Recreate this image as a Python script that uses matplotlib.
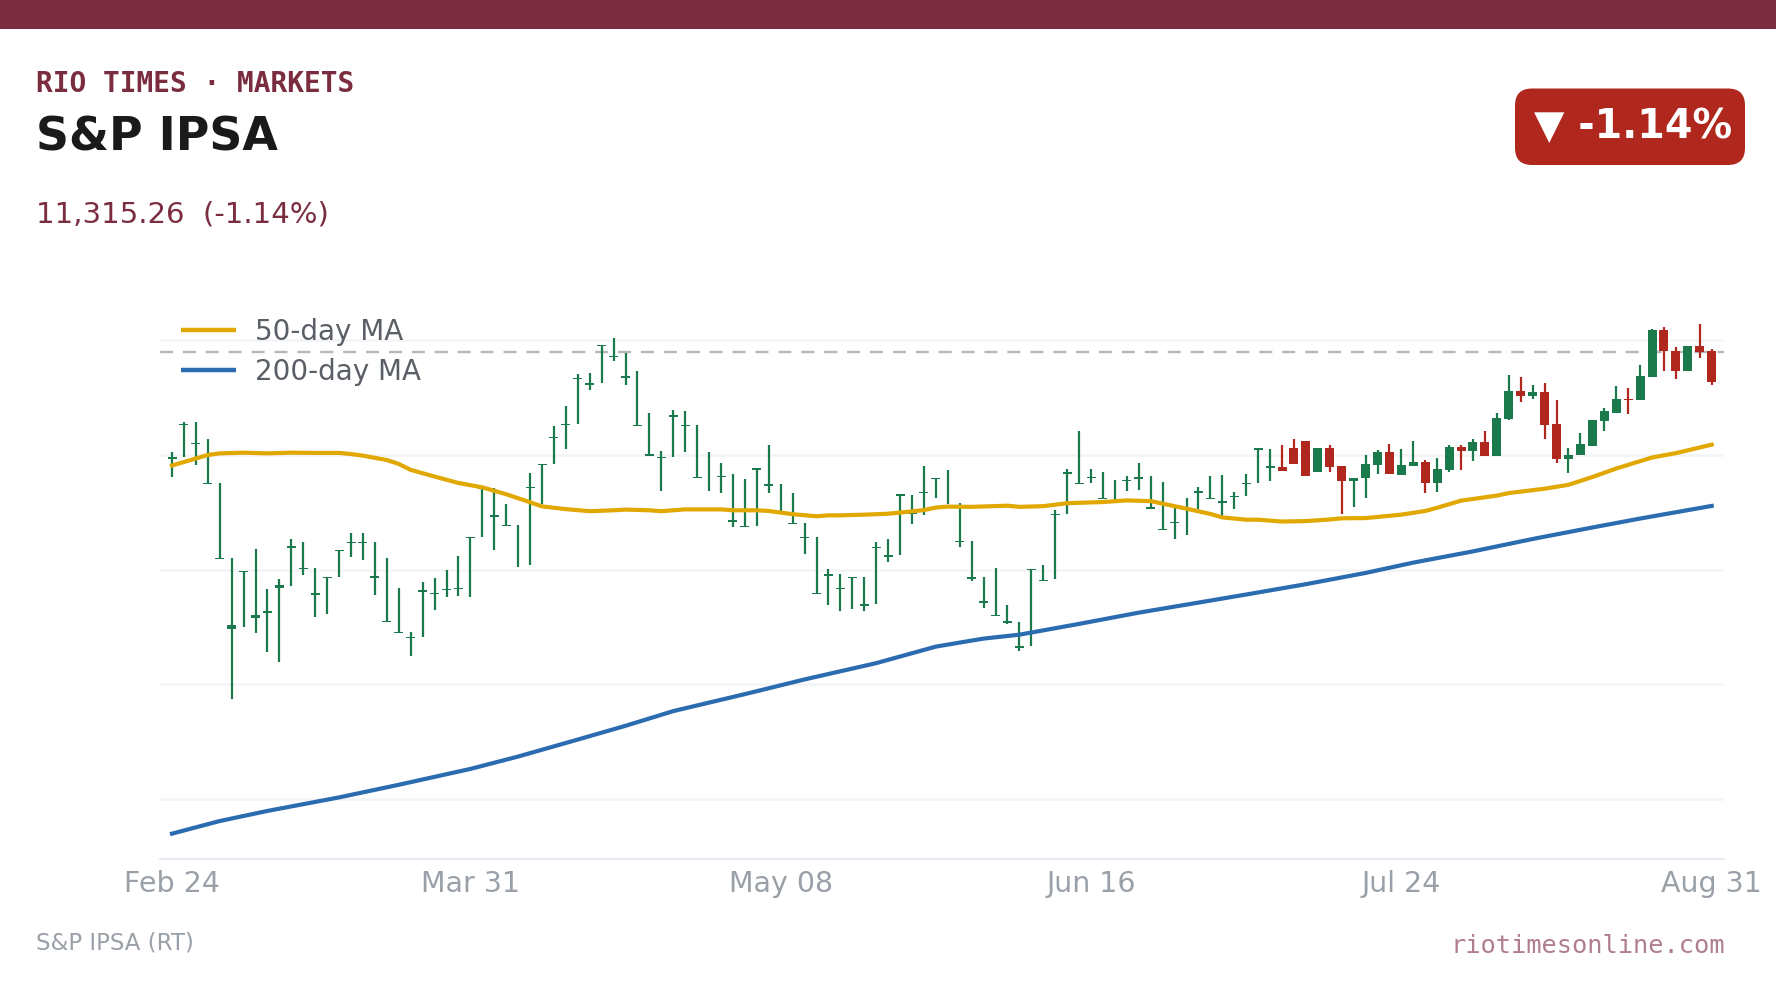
import matplotlib
matplotlib.use("Agg")
import matplotlib.pyplot as plt
from matplotlib.patches import FancyBboxPatch, Rectangle

HIGHS = [
    11012, 11141, 11141, 11067, 10877, 10549, 10495, 10590, 10415, 10457,
    10633, 10619, 10505, 10466, 10584, 10658, 10658, 10619, 10549, 10418,
    10227, 10444, 10462, 10497, 10558, 10643, 10854, 10854, 10786, 10693,
    10919, 10958, 11124, 11211, 11350, 11355, 11477, 11507, 11442, 11365,
    11182, 11016, 11195, 11191, 11130, 11012, 10963, 10916, 10895, 10941,
    11043, 10873, 10834, 10701, 10642, 10501, 10481, 10469, 10468, 10619,
    10633, 10828, 10825, 10951, 10897, 10934, 10790, 10624, 10469, 10506,
    10347, 10273, 10503, 10521, 10759, 10938, 11105, 10938, 10926, 10891,
    10907, 10965, 10909, 10881, 10768, 10811, 10859, 10909, 10913, 10837,
    10917, 11028, 11026, 11044, 11067, 11058, 11028, 11041, 10949, 10897,
    11001, 11019, 11045, 11023, 11062, 10975, 10988, 11041, 11041, 11067,
    11102, 11180, 11346, 11337, 11306, 11311, 11237, 11028, 11093, 11150,
    11202, 11298, 11289, 11393, 11550, 11555, 11468, 11472, 11568, 11459,
]
LOWS = [
    10905, 10992, 10957, 10877, 10550, 9935, 10251, 10225, 10142, 10099,
    10430, 10478, 10295, 10308, 10469, 10556, 10543, 10391, 10277, 10229,
    10125, 10208, 10325, 10382, 10386, 10382, 10643, 10587, 10694, 10513,
    10521, 10786, 10961, 11027, 11136, 11284, 11314, 11410, 11305, 11130,
    10995, 10842, 10992, 11012, 10905, 10844, 10835, 10687, 10687, 10691,
    10835, 10757, 10701, 10569, 10399, 10346, 10317, 10330, 10321, 10351,
    10534, 10565, 10700, 10739, 10813, 10787, 10600, 10449, 10331, 10296,
    10262, 10143, 10165, 10451, 10457, 10744, 10879, 10879, 10811, 10804,
    10840, 10845, 10771, 10676, 10631, 10649, 10765, 10811, 10731, 10765,
    10821, 10879, 10884, 10930, 10958, 10906, 10927, 10923, 10740, 10771,
    10810, 10914, 10914, 10910, 10949, 10832, 10836, 10927, 10932, 10971,
    10993, 10993, 11150, 11232, 11245, 11067, 10962, 10919, 10997, 11036,
    11102, 11184, 11176, 11237, 11337, 11367, 11328, 11367, 11420, 11302,
]
OPENS = [
    10982, 11131, 11047, 10871, 10544, 10240, 10489, 10290, 10309, 10419,
    10594, 10502, 10391, 10463, 10581, 10614, 10616, 10465, 10271, 10223,
    10202, 10404, 10393, 10409, 10415, 10637, 10851, 10730, 10688, 10514,
    10853, 10955, 11071, 11130, 11328, 11305, 11474, 11426, 11336, 11124,
    10996, 10986, 11165, 11124, 10899, 10854, 10903, 10708, 10684, 10935,
    10866, 10754, 10698, 10639, 10393, 10473, 10413, 10463, 10342, 10592,
    10556, 10822, 10742, 10833, 10893, 10784, 10618, 10460, 10353, 10297,
    10266, 10157, 10497, 10451, 10736, 10915, 10873, 10900, 10808, 10836,
    10887, 10893, 10765, 10673, 10704, 10765, 10834, 10808, 10789, 10818,
    10871, 11022, 10941, 10948, 11028, 11058, 10927, 11028, 10949, 10884,
    10897, 10954, 11010, 10910, 10949, 10967, 10879, 10932, 11032, 11015,
    11054, 10993, 11154, 11276, 11254, 11272, 11132, 10980, 10997, 11036,
    11145, 11184, 11245, 11237, 11337, 11542, 11454, 11367, 11472, 11450,
]
CLOSES = [
    10992, 11134, 11050, 10877, 10550, 10256, 10495, 10302, 10317, 10431,
    10604, 10505, 10399, 10466, 10584, 10622, 10619, 10473, 10277, 10229,
    10205, 10412, 10396, 10417, 10418, 10643, 10854, 10738, 10694, 10517,
    10861, 10958, 11079, 11136, 11336, 11314, 11477, 11429, 11345, 11130,
    11002, 10992, 11173, 11130, 10905, 10857, 10909, 10716, 10690, 10941,
    10874, 10757, 10701, 10642, 10399, 10481, 10421, 10469, 10350, 10600,
    10562, 10828, 10748, 10839, 10897, 10787, 10626, 10468, 10361, 10303,
    10274, 10165, 10503, 10454, 10744, 10923, 10879, 10903, 10811, 10839,
    10890, 10901, 10771, 10676, 10707, 10768, 10842, 10811, 10797, 10821,
    10879, 11028, 10949, 10930, 10958, 10906, 11028, 10945, 10884, 10897,
    10958, 11010, 10914, 10954, 10967, 10879, 10936, 11032, 11015, 11054,
    10993, 11158, 11276, 11254, 11272, 11128, 10980, 11001, 11045, 11150,
    11189, 11245, 11237, 11341, 11542, 11450, 11367, 11472, 11446, 11315.26,
]
MA50_IDX = [0, 3, 4, 6, 8, 10, 12, 14, 15, 16, 18, 19, 20, 22, 24, 26, 28, 30, 31, 33,
            35, 37, 38, 40, 41, 43, 46, 47, 49, 50, 52, 54, 55, 56, 58, 60, 61, 63, 64, 65,
            67, 70, 71, 73, 75, 78, 80, 82, 83, 85, 87, 88, 90, 91, 93, 95, 97, 98, 100, 103,
            105, 106, 108, 111, 112, 115, 117, 119, 121, 124, 126, 129]
MA50 = [10953, 10999, 11006, 11009, 11006, 11009, 11008, 11008, 11003, 10996,
        10977, 10960, 10934, 10905, 10877, 10858, 10828, 10793, 10775, 10763,
        10754, 10758, 10761, 10758, 10754, 10762, 10762, 10758, 10758, 10755,
        10741, 10732, 10736, 10736, 10739, 10743, 10748, 10759, 10770, 10774,
        10773, 10778, 10773, 10776, 10789, 10794, 10801, 10798, 10787, 10765,
        10742, 10727, 10717, 10717, 10709, 10711, 10718, 10723, 10724, 10739,
        10755, 10769, 10800, 10822, 10833, 10852, 10869, 10903, 10940, 10988,
        11007, 11044]
MA200_IDX = [0, 4, 8, 14, 19, 25, 29, 34, 38, 42, 48, 53, 59, 64, 68, 71, 76, 81, 85, 90,
             95, 100, 104, 109, 114, 119, 123, 129]
MA200 = [9349, 9404, 9448, 9507, 9562, 9631, 9685, 9759, 9819, 9883,
         9957, 10021, 10092, 10164, 10199, 10216, 10263, 10312, 10347, 10391,
         10436, 10485, 10530, 10579, 10633, 10683, 10722, 10777]
TICK_IDX = [0, 25, 51, 77, 103, 129]
TICK_LABELS = ["Feb 24", "Mar 31", "May 08", "Jun 16", "Jul 24", "Aug 31"]
GRID_LEVELS = [9500, 10000, 10500, 11000, 11500]
PREV_CLOSE = 11446

MAROON = "#7b2d40"
GREEN = "#1a7a4c"
RED = "#b0271e"
GOLD = "#e0a800"
BLUE = "#2b6cb0"
W, H = 1776, 999

fig = plt.figure(figsize=(W / 100, H / 100), dpi=100, facecolor="white")

ov = fig.add_axes([0, 0, 1, 1], zorder=0)
ov.set_xlim(0, W)
ov.set_ylim(H, 0)
ov.axis("off")
ov.add_patch(Rectangle((0, 0), W, 29, color=MAROON, lw=0))
ov.add_patch(FancyBboxPatch((1515, 88.5), 230, 76.5,
                            boxstyle="round,pad=0,rounding_size=17",
                            fc=RED, ec="none"))
ov.text(36, 92, "RIO TIMES · MARKETS", family="DejaVu Sans Mono", weight="bold",
        fontsize=20, color=MAROON, va="baseline")
ov.text(36, 150.5, "S&P IPSA", family="DejaVu Sans", weight="bold",
        fontsize=33, color="#1a1a1a", va="baseline")
ov.text(36, 223, "11,315.26  (-1.14%)", family="DejaVu Sans",
        fontsize=21, color=MAROON, va="baseline")
ov.text(1534, 138, "▼ -1.14%", family="DejaVu Sans", weight="bold",
        fontsize=28.5, color="white", va="baseline")
ov.text(36, 950, "S&P IPSA (RT)", family="DejaVu Sans",
        fontsize=16.5, color="#9aa0a8", va="baseline")
ov.text(1725, 953, "riotimesonline.com", family="DejaVu Sans Mono",
        fontsize=18.3, color="#b07f8c", va="baseline", ha="right")

left, right, top, bottom = 160, 1724, 320, 859
ax = fig.add_axes([left / W, 1 - bottom / H, (right - left) / W, (bottom - top) / H],
                  zorder=1)
ax.patch.set_alpha(0)
unit = (1711.7 - 172) / 129
ax.set_xlim((left - 172) / unit, (right - 172) / unit)
scale = (799 - 340) / 2000  # px per index point
ax.set_ylim(11500 - (bottom - 340) / scale, 11500 + (340 - top) / scale)

for level in GRID_LEVELS:
    ax.axhline(level, color="#f3f4f6", lw=1.8, zorder=1)
ax.axhline(PREV_CLOSE, color="#b5b7bb", lw=1.7, linestyle=(0, (5.5, 4.2)),
           dash_capstyle="butt", zorder=1.5)

xs = list(range(len(CLOSES)))
colors = [GREEN if c >= o else RED for o, c in zip(OPENS, CLOSES)]
ax.vlines(xs, LOWS, HIGHS, colors=colors, lw=1.6, zorder=2)
ax.bar(xs, [abs(c - o) for o, c in zip(OPENS, CLOSES)],
       bottom=[min(o, c) for o, c in zip(OPENS, CLOSES)],
       width=9 / unit, color=colors, lw=0, zorder=2.1)

ax.plot(MA50_IDX, MA50, color=GOLD, lw=3, label="50-day MA", zorder=3,
        solid_joinstyle="round")
ax.plot(MA200_IDX, MA200, color=BLUE, lw=3, label="200-day MA", zorder=3,
        solid_joinstyle="round")

for s in ["top", "left", "right"]:
    ax.spines[s].set_visible(False)
ax.spines["bottom"].set_color("#e8e8f0")
ax.spines["bottom"].set_linewidth(1.5)
ax.set_yticks([])
ax.set_xticks(TICK_IDX)
ax.set_xticklabels(TICK_LABELS, family="DejaVu Sans", fontsize=20.5, color="#9aa0a8")
ax.tick_params(axis="x", length=0, pad=8)

fs = 20
leg = ax.legend(loc="upper left", bbox_to_anchor=(181 / W, 1 - 318 / H),
                bbox_transform=fig.transFigure, frameon=False, fontsize=fs,
                handlelength=55 / (fs * 100 / 72), handletextpad=19 / (fs * 100 / 72),
                labelspacing=0.42, borderpad=0, borderaxespad=0)
for t in leg.get_texts():
    t.set_color("#5a5f66")
for l in leg.get_lines():
    l.set_linewidth(3.2)
    l.set_solid_capstyle("butt")

fig.savefig("out.png", dpi=100)
